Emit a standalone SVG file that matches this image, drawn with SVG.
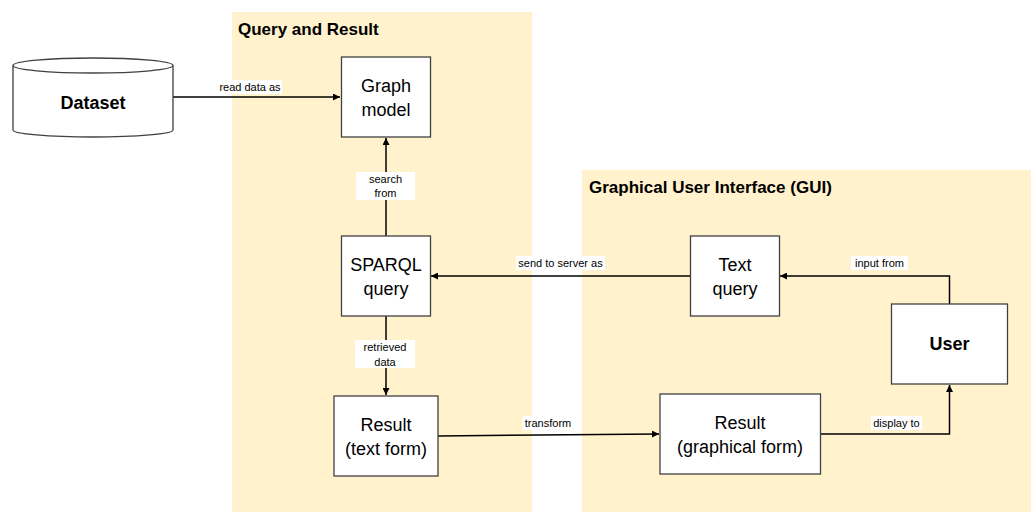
<svg xmlns="http://www.w3.org/2000/svg" width="1031" height="512" viewBox="0 0 1031 512">
<style>
.panel{fill:#FFF2CC;stroke:none}
.ptitle{font-family:"Liberation Sans",Arial,sans-serif;font-weight:bold;font-size:17px;fill:#000}
.box{fill:#fff;stroke:#404040;stroke-width:1.3}
.t{font-family:"Liberation Sans",Arial,sans-serif;font-size:18px;fill:#000;text-anchor:middle}
.tb{font-family:"Liberation Sans",Arial,sans-serif;font-size:18px;font-weight:bold;fill:#000;text-anchor:middle}
.edge{fill:none;stroke:#000;stroke-width:1.5}
.lbg{fill:#fff}
.lt{font-family:"Liberation Sans",Arial,sans-serif;font-size:11px;fill:#000;text-anchor:middle}
</style>
<defs>
<marker id="ah" viewBox="0 0 10 10" refX="10" refY="5" markerWidth="7" markerHeight="7" markerUnits="userSpaceOnUse" orient="auto">
<path d="M0,0 L10,5 L0,10 z" fill="#000"/>
</marker>
</defs>
<rect width="1031" height="512" fill="#fff"/>
<g id="panel-query">
<rect class="panel" x="232" y="12" width="300" height="500"/>
<text class="ptitle" x="238" y="35">Query and Result</text>
</g>
<g id="panel-gui">
<rect class="panel" x="582" y="170" width="449" height="342"/>
<text class="ptitle" x="589" y="193">Graphical User Interface (GUI)</text>
</g>
<g id="connectors">
<path class="edge" d="M173,97 L340,97" marker-end="url(#ah)"/>
<path class="edge" d="M386,236 L386,138" marker-end="url(#ah)"/>
<path class="edge" d="M690,276 L431,276" marker-end="url(#ah)"/>
<path class="edge" d="M949.5,304 L949.5,276 L780,276" marker-end="url(#ah)"/>
<path class="edge" d="M386,316 L386,395" marker-end="url(#ah)"/>
<path class="edge" d="M438,436 L659,434" marker-end="url(#ah)"/>
<path class="edge" d="M821,434 L949.5,434 L949.5,385" marker-end="url(#ah)"/>
<rect class="lbg" x="218" y="80" width="64" height="14"/>
<text class="lt" x="250" y="91">read data as</text>
<rect class="lbg" x="356" y="172" width="59" height="28"/>
<text class="lt" x="385.5" y="183">search</text>
<text class="lt" x="385.5" y="197">from</text>
<rect class="lbg" x="516" y="256" width="89" height="14"/>
<text class="lt" x="560.5" y="267">send to server as</text>
<rect class="lbg" x="851" y="256" width="57" height="14"/>
<text class="lt" x="879.5" y="267">input from</text>
<rect class="lbg" x="355" y="340" width="60" height="28"/>
<text class="lt" x="385" y="351">retrieved</text>
<text class="lt" x="385" y="366">data</text>
<rect class="lbg" x="522.5" y="416" width="51" height="14"/>
<text class="lt" x="548" y="427">transform</text>
<rect class="lbg" x="871" y="416" width="51" height="14"/>
<text class="lt" x="896.5" y="427">display to</text>
</g>
<g id="dataset">
<path class="box" d="M13,65.5 L13,130 A80,7 0 0 0 173,130 L173,65.5"/>
<ellipse class="box" cx="93" cy="65.5" rx="80" ry="7.5"/>
<text class="tb" x="93" y="109">Dataset</text>
</g>
<g id="graph-model">
<rect class="box" x="341.5" y="57" width="89" height="80"/>
<text class="t" x="386" y="92">Graph</text>
<text class="t" x="386" y="116">model</text>
</g>
<g id="sparql-query">
<rect class="box" x="341.5" y="236" width="89" height="80"/>
<text class="t" x="386" y="270.5">SPARQL</text>
<text class="t" x="386" y="294.5">query</text>
</g>
<g id="text-query">
<rect class="box" x="690.5" y="236" width="89" height="80"/>
<text class="t" x="735" y="270.5">Text</text>
<text class="t" x="735" y="294.5">query</text>
</g>
<g id="user">
<rect class="box" x="891.5" y="304" width="116" height="80"/>
<text class="tb" x="949.5" y="350">User</text>
</g>
<g id="result-text">
<rect class="box" x="334" y="396" width="104" height="80"/>
<text class="t" x="386" y="430.5">Result</text>
<text class="t" x="386" y="454.5">(text form)</text>
</g>
<g id="result-graphical">
<rect class="box" x="660" y="394" width="160.5" height="80"/>
<text class="t" x="740" y="428.5">Result</text>
<text class="t" x="740" y="452.5">(graphical form)</text>
</g>
</svg>
